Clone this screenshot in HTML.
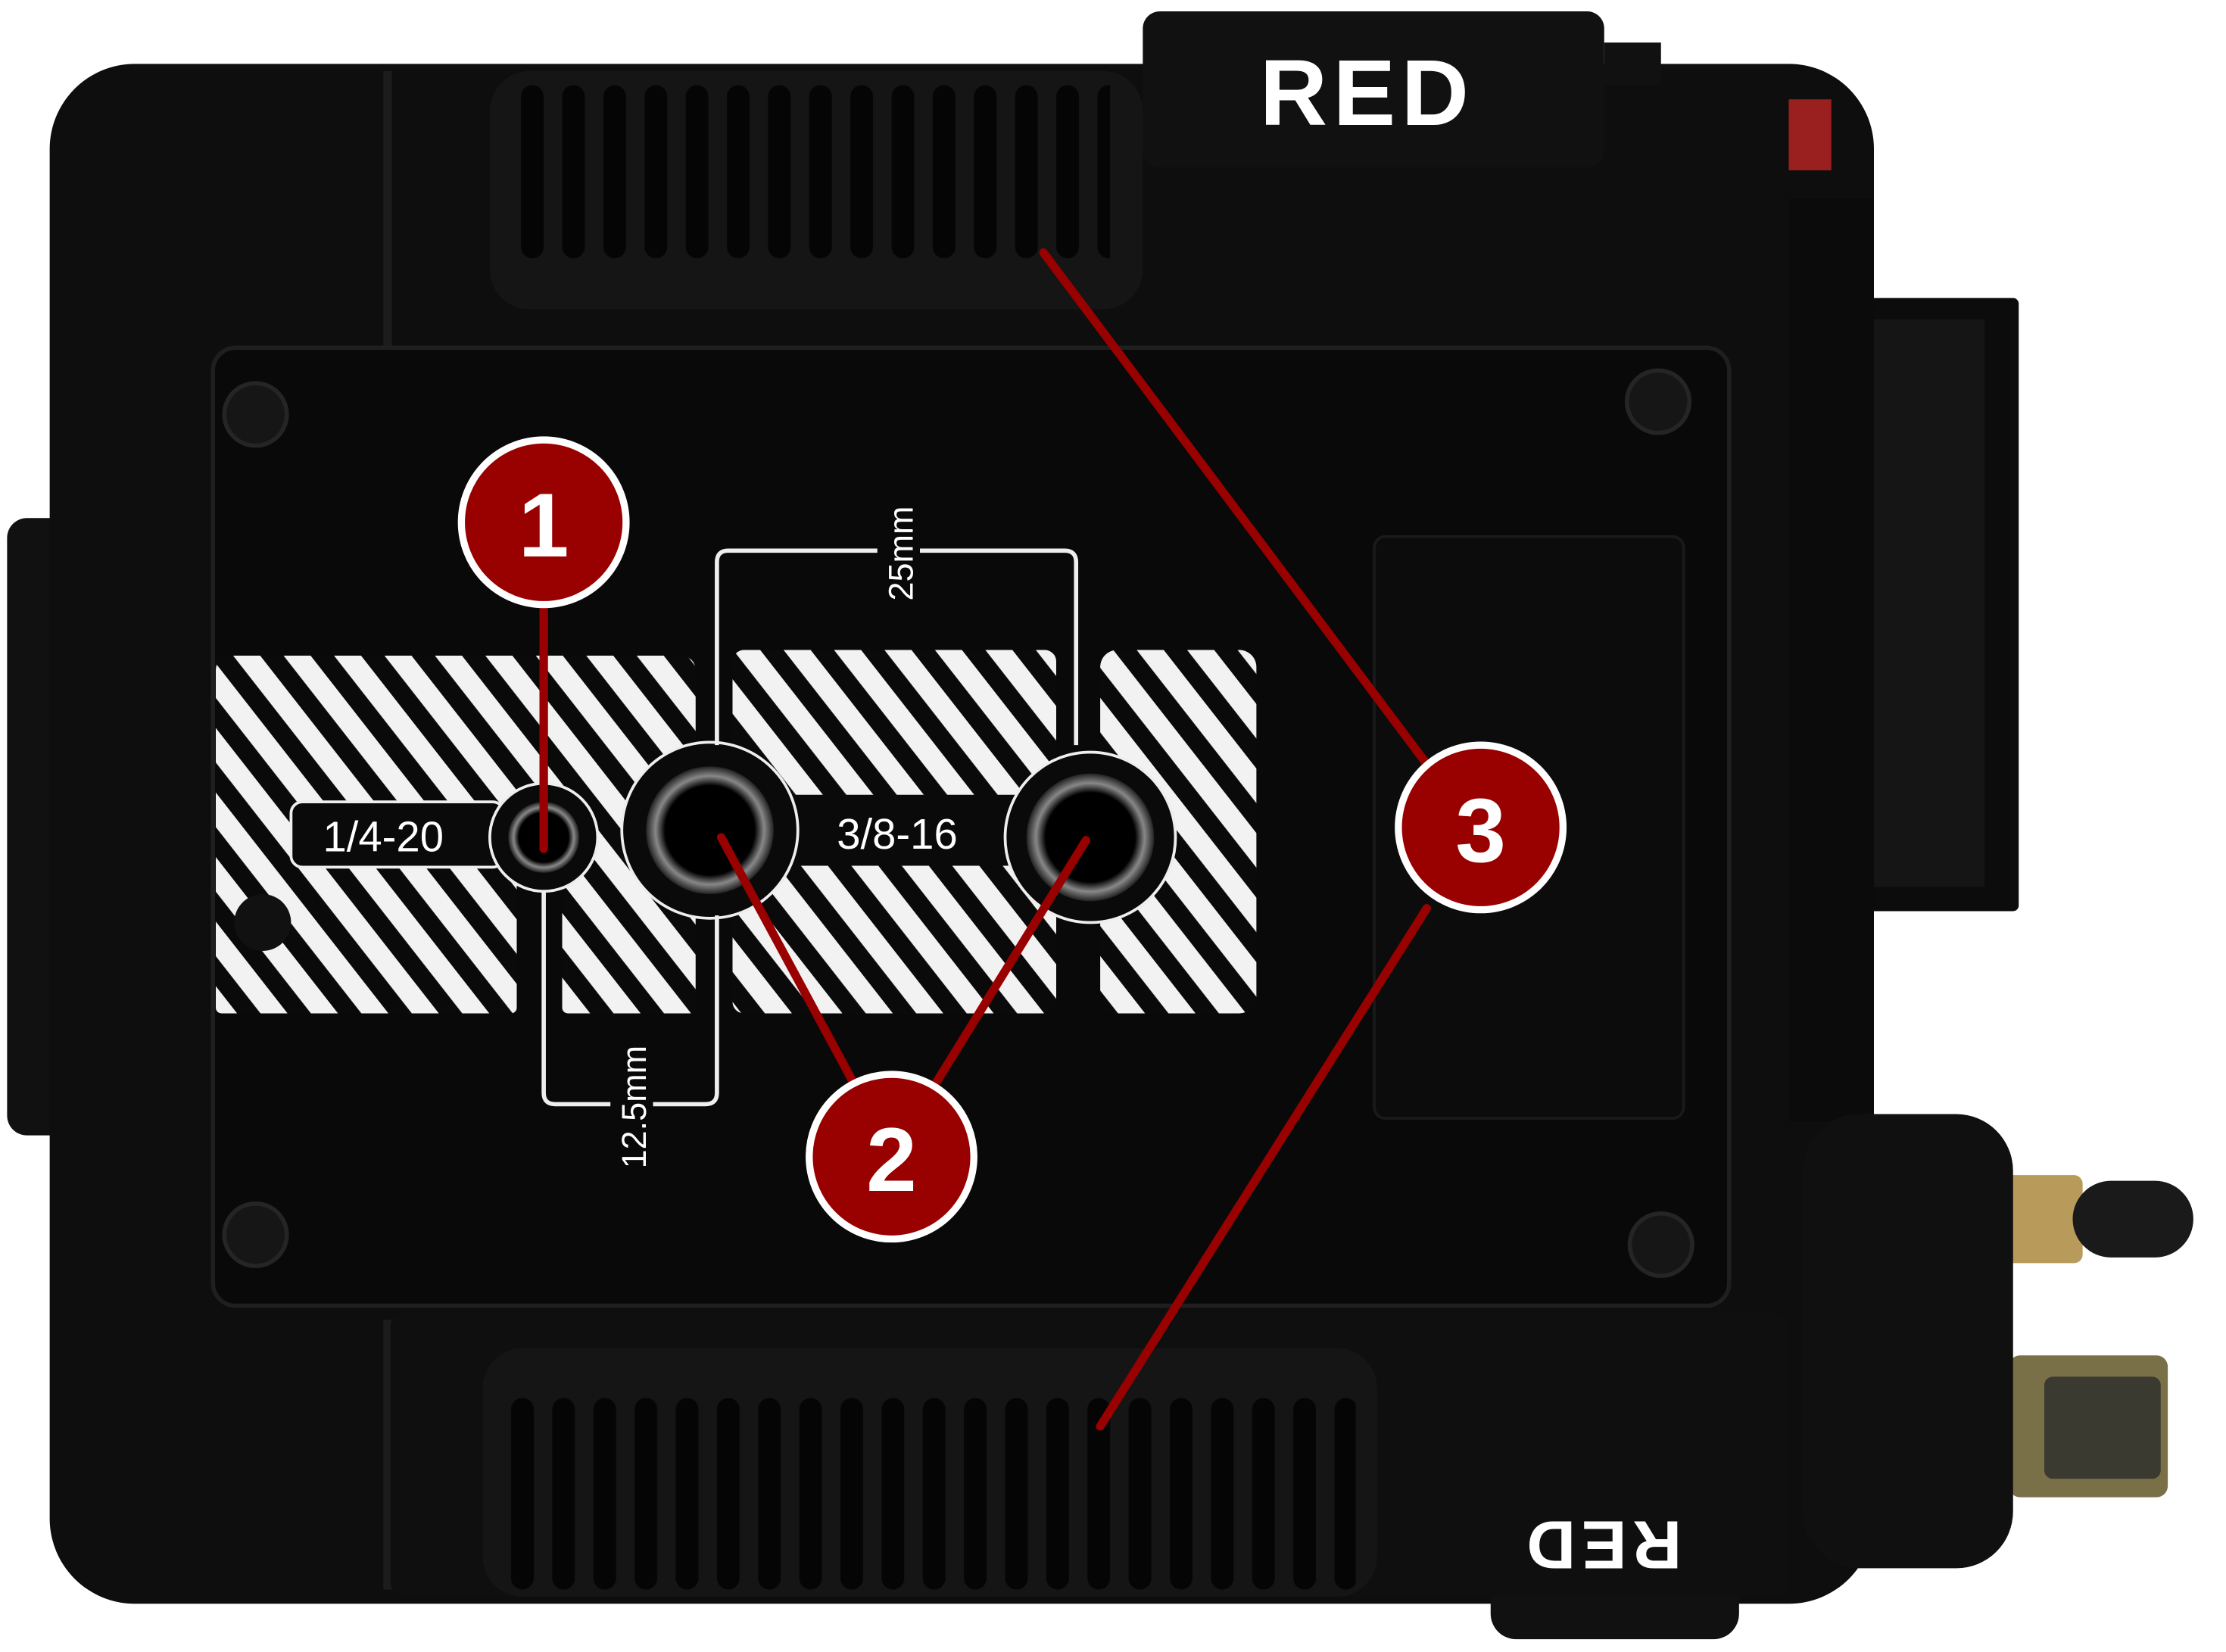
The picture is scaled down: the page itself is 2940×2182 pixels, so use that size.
<!DOCTYPE html>
<html><head><meta charset="utf-8"><style>
html,body{margin:0;padding:0;background:#fff;}
svg{display:block;}
</style></head><body>
<svg width="2940" height="2182" viewBox="0 0 1568 1164" preserveAspectRatio="none" xmlns="http://www.w3.org/2000/svg">
<defs>
<pattern id="st" patternUnits="userSpaceOnUse" width="28" height="28" patternTransform="rotate(-38)">
<rect width="28" height="28" fill="#f2f2f2"/><rect width="13" height="28" fill="#0a0a0a"/>
</pattern>
<pattern id="ven" patternUnits="userSpaceOnUse" width="29" height="122" x="362" y="60">
<rect width="29" height="122" fill="#151515"/><rect x="5" width="16" height="122" rx="8" fill="#050505"/>
</pattern>
<pattern id="ven2" patternUnits="userSpaceOnUse" width="29" height="135" x="355" y="985">
<rect width="29" height="135" fill="#151515"/><rect x="5" width="16" height="135" rx="8" fill="#050505"/>
</pattern>
<radialGradient id="hole"><stop offset="0.7" stop-color="#000"/><stop offset="0.85" stop-color="#888"/><stop offset="1" stop-color="#222"/></radialGradient>
</defs>
<rect width="1568" height="1164" fill="#fff"/>
<rect x="5" y="365" width="45" height="435" rx="14" fill="#111"/>
<rect x="1300" y="210" width="122" height="432" rx="4" fill="#0c0c0c"/>
<rect x="1320" y="225" width="78" height="400" fill="#151515"/>
<rect x="1412" y="828" width="55" height="62" rx="6" fill="#b89a5a"/>
<rect x="1460" y="832" width="85" height="54" rx="27" fill="#1a1a1a"/>
<rect x="1415" y="955" width="112" height="100" rx="8" fill="#7a7048"/>
<rect x="1440" y="970" width="82" height="72" rx="6" fill="#3a3a30"/>
<rect x="35" y="45" width="1285" height="1085" rx="60" fill="#0e0e0e"/>
<rect x="1260" y="140" width="60" height="650" fill="#0b0b0b"/>
<rect x="1270" y="785" width="148" height="320" rx="40" fill="#101010"/>
<rect x="1050" y="1110" width="175" height="45" rx="18" fill="#111"/>
<rect x="805" y="8" width="325" height="110" rx="12" fill="#111"/>
<rect x="1130" y="30" width="40" height="30" fill="#111"/>
<rect x="1260" y="70" width="30" height="50" fill="#9a1f1f"/>
<text x="963" y="88" font-family="Liberation Sans, sans-serif" font-weight="900" font-size="66" fill="#fff" text-anchor="middle" letter-spacing="4">RED</text>
<rect x="345" y="50" width="460" height="168" rx="28" fill="#151515"/>
<rect x="362" y="60" width="420" height="122" fill="url(#ven)"/>
<rect x="270" y="50" width="6" height="195" fill="#1c1c1c"/>
<rect x="270" y="930" width="6" height="190" fill="#1c1c1c"/>
<rect x="150" y="245" width="1068" height="675" rx="16" fill="#090909" stroke="#1f1f1f" stroke-width="3"/>
<rect x="968" y="378" width="218" height="410" rx="8" fill="#0c0c0c" stroke="#1a1a1a" stroke-width="2"/>
<g fill="#161616" stroke="#252525" stroke-width="3">
<circle cx="180" cy="292" r="22"/><circle cx="1168" cy="283" r="22"/><circle cx="180" cy="870" r="22"/><circle cx="1170" cy="877" r="22"/>
</g>
<rect x="275" y="925" width="985" height="200" rx="10" fill="#0f0f0f"/>
<rect x="340" y="950" width="630" height="175" rx="28" fill="#151515"/>
<rect x="355" y="985" width="600" height="135" fill="url(#ven2)"/>
<text transform="translate(1128,1072) rotate(180)" font-family="Liberation Sans, sans-serif" font-weight="900" font-size="48" fill="#fff" text-anchor="middle" letter-spacing="4">RED</text>
<g fill="url(#st)">
<rect x="152" y="462" width="338" height="150" rx="10"/>
<rect x="152" y="600" width="212" height="114" rx="4"/>
<rect x="396" y="600" width="94" height="114" rx="4"/>
<rect x="516" y="458" width="228" height="256" rx="8"/>
<rect x="775" y="458" width="110" height="256" rx="12"/>
</g>
<circle cx="185" cy="650" r="20" fill="#111"/>
<rect x="205" y="565" width="150" height="46" rx="8" fill="#0a0a0a" stroke="#eee" stroke-width="2"/>
<rect x="555" y="560" width="170" height="50" rx="4" fill="#0a0a0a"/>
<circle cx="383" cy="590" r="38" fill="#0a0a0a" stroke="#eee" stroke-width="2"/>
<circle cx="500" cy="585" r="62" fill="#0a0a0a" stroke="#eee" stroke-width="2"/>
<circle cx="768" cy="590" r="60" fill="#0a0a0a" stroke="#eee" stroke-width="2"/>
<circle cx="383" cy="590" r="25" fill="url(#hole)"/>
<circle cx="500" cy="585" r="45" fill="url(#hole)"/>
<circle cx="768" cy="590" r="45" fill="url(#hole)"/>
<text x="270" y="600" font-family="Liberation Sans, sans-serif" font-size="30" fill="#fff" text-anchor="middle">1/4-20</text>
<text x="632" y="598" font-family="Liberation Sans, sans-serif" font-size="30" fill="#fff" text-anchor="middle">3/8-16</text>
<g fill="none" stroke="#eee" stroke-width="3">
<path d="M505 525 V396 Q505 388 513 388 H750 Q758 388 758 396 V525"/>
<path d="M383 628 V770 Q383 778 391 778 H497 Q505 778 505 770 V645"/>
</g>
<rect x="618" y="350" width="30" height="80" fill="#090909"/>
<text transform="translate(643,390) rotate(-90)" font-family="Liberation Sans, sans-serif" font-size="24" fill="#fff" text-anchor="middle">25mm</text>
<rect x="430" y="730" width="30" height="100" fill="#090909"/>
<text transform="translate(455,780) rotate(-90)" font-family="Liberation Sans, sans-serif" font-size="24" fill="#fff" text-anchor="middle">12.5mm</text>
<g stroke="#990000" stroke-width="6" stroke-linecap="round" fill="none">
<line x1="383" y1="400" x2="383" y2="598"/>
<line x1="508" y1="590" x2="605" y2="770"/>
<line x1="765" y1="592" x2="655" y2="770"/>
<line x1="735" y1="178" x2="1010" y2="545"/>
<line x1="1005" y1="640" x2="775" y2="1005"/>
</g>
<g font-family="Liberation Sans, sans-serif" font-weight="bold" font-size="64" fill="#fff" text-anchor="middle">
<circle cx="383" cy="368" r="58" fill="#990000" stroke="#fff" stroke-width="5"/>
<text x="383" y="392">1</text>
<circle cx="628" cy="815" r="58" fill="#990000" stroke="#fff" stroke-width="5"/>
<text x="628" y="839">2</text>
<circle cx="1043" cy="583" r="58" fill="#990000" stroke="#fff" stroke-width="5"/>
<text x="1043" y="607">3</text>
</g>
</svg>
</body></html>
